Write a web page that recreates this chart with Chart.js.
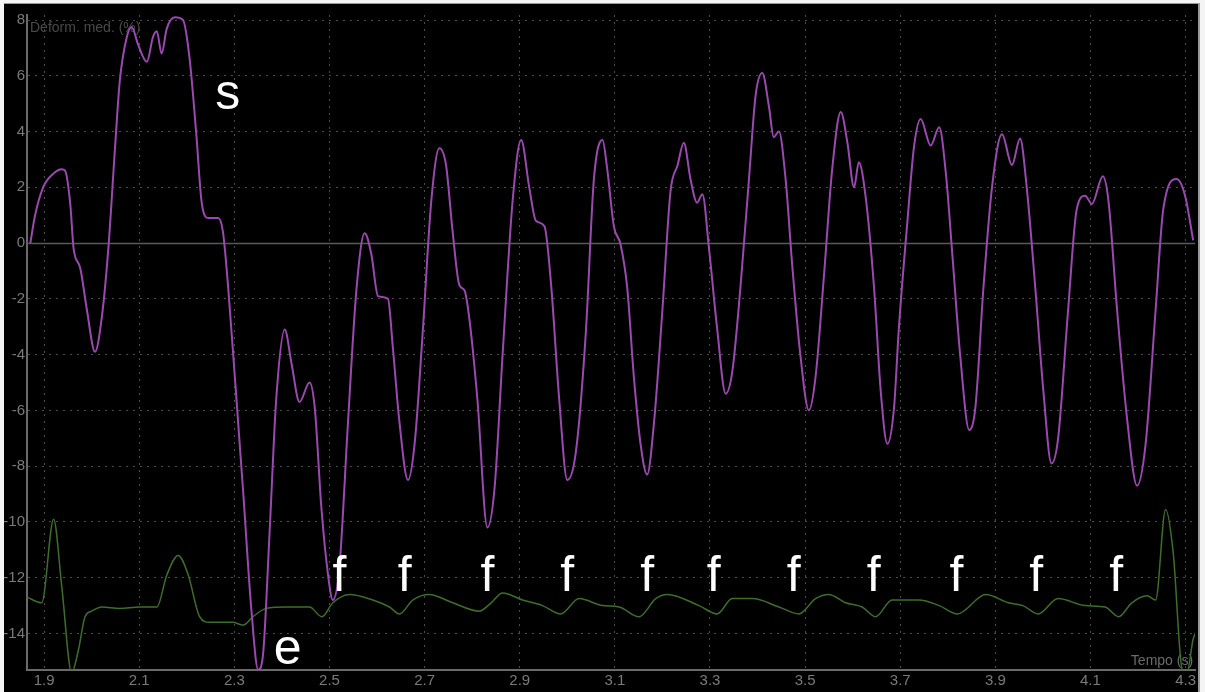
<!DOCTYPE html>
<html>
<head>
<meta charset="utf-8">
<script src="https://cdn.jsdelivr.net/npm/chart.js@4"></script>
<style>
  html, body { margin: 0; padding: 0; background: #f4f4f4; }
  #frame {
    position: absolute; left: 4px; top: 3px; width: 1194px; height: 689px;
    background: #000; border-top: 1px solid #9a9a9a; border-right: 2px solid #9a9a9a;
  }
  canvas { display: block; }
</style>
</head>
<body>
<div id="frame"><canvas id="strainChart" width="1194" height="689"></canvas></div>
<script>
// strain curve (purple)
const strainTime = [1.871,1.881,1.898,1.920,1.937,1.944,1.955,1.962,1.976,1.990,2.007,2.021,2.035,2.049,2.059,2.074,2.084,2.098,2.116,2.129,2.137,2.147,2.158,2.175,2.192,2.206,2.220,2.231,2.245,2.266,2.276,2.287,2.301,2.318,2.336,2.350,2.360,2.374,2.388,2.406,2.420,2.437,2.458,2.469,2.483,2.497,2.507,2.521,2.539,2.557,2.574,2.588,2.602,2.623,2.633,2.647,2.665,2.679,2.696,2.714,2.731,2.745,2.759,2.773,2.784,2.794,2.811,2.832,2.847,2.864,2.885,2.903,2.920,2.934,2.952,2.966,2.983,3.000,3.018,3.039,3.056,3.074,3.084,3.098,3.112,3.126,3.140,3.154,3.168,3.182,3.200,3.217,3.232,3.245,3.259,3.273,3.284,3.298,3.315,3.333,3.347,3.364,3.382,3.396,3.410,3.424,3.434,3.445,3.459,3.473,3.490,3.508,3.522,3.540,3.557,3.575,3.589,3.603,3.613,3.627,3.645,3.659,3.673,3.687,3.697,3.715,3.729,3.743,3.764,3.782,3.796,3.810,3.826,3.845,3.858,3.875,3.893,3.914,3.935,3.952,3.966,3.984,4.001,4.018,4.032,4.053,4.071,4.089,4.103,4.126,4.138,4.156,4.177,4.198,4.216,4.237,4.253,4.281,4.299,4.316];
const strainValue = [0,1.0,2.0,2.5,2.65,2.6,1.4,-0.2,-0.9,-2.4,-3.9,-2.7,-0.2,3.4,5.8,7.4,7.75,7.1,6.5,7.4,7.6,6.8,7.7,8.1,8.0,6.6,3.9,1.5,0.9,0.9,0.4,-1.6,-4.8,-8.8,-13.2,-15.3,-14.8,-10.4,-5.6,-3.1,-4.3,-5.7,-5.0,-5.9,-9.5,-11.9,-12.8,-11.6,-6.4,-1.6,0.35,-0.4,-1.9,-2.0,-3.7,-6.4,-8.5,-7.2,-3.2,1.5,3.4,2.8,0.4,-1.5,-1.7,-2.7,-5.6,-10.2,-8.8,-4.0,1.5,3.7,2.0,0.8,0.6,-1.5,-5.6,-8.5,-7.5,-3.2,2.3,3.7,2.65,0.6,-0.05,-1.6,-4.8,-7.2,-8.3,-6.5,-2.4,1.85,2.8,3.6,2.3,1.45,1.75,-0.2,-3.05,-5.4,-4.6,-1.6,2.3,5.3,6.1,4.9,3.8,4.0,2.3,-0.8,-4.0,-6.0,-4.8,-1.1,2.65,4.7,3.6,2.0,2.9,1.7,-1.6,-5.3,-7.2,-5.9,-3.1,0.75,3.45,4.45,3.5,4.15,2.5,-0.5,-4.0,-6.7,-5.9,-1.6,2.0,3.9,2.8,3.75,2.0,-1.6,-5.3,-7.9,-7.0,-2.4,1.2,1.7,1.4,2.4,1.5,-2.4,-6.3,-8.7,-7.2,-2.4,1.2,2.3,1.7,0.1];

// ECG trace (green)
const ecgTime = [1.864,1.895,1.920,1.937,1.958,1.972,1.986,2.000,2.021,2.059,2.101,2.137,2.158,2.182,2.203,2.227,2.248,2.297,2.318,2.339,2.367,2.409,2.458,2.484,2.507,2.542,2.591,2.626,2.647,2.675,2.710,2.759,2.815,2.840,2.864,2.906,2.948,2.986,3.025,3.074,3.109,3.151,3.186,3.210,3.277,3.315,3.347,3.389,3.445,3.487,3.522,3.550,3.585,3.620,3.648,3.683,3.739,3.782,3.820,3.880,3.927,3.958,3.990,4.032,4.089,4.131,4.159,4.187,4.219,4.237,4.258,4.274,4.293,4.303,4.316,4.331];
const ecgValue = [-12.7,-12.9,-9.9,-12.3,-15.4,-14.6,-13.4,-13.2,-13.05,-13.1,-13.05,-13.05,-11.9,-11.2,-11.9,-13.4,-13.6,-13.6,-13.7,-13.4,-13.1,-13.05,-13.05,-13.4,-12.9,-12.6,-12.8,-13.05,-13.3,-12.8,-12.6,-12.9,-13.2,-12.9,-12.55,-12.8,-13.0,-13.3,-12.75,-13.0,-13.05,-13.4,-12.75,-12.6,-13.0,-13.3,-12.75,-12.75,-13.05,-13.3,-12.75,-12.6,-12.9,-13.05,-13.4,-12.8,-12.8,-13.0,-13.3,-12.6,-12.9,-13.0,-13.3,-12.75,-13.0,-13.05,-13.4,-12.9,-12.65,-12.8,-9.55,-11.1,-15.3,-15.4,-14.2,-13.7];

// axes
const xTicks = [1.9,2.1,2.3,2.5,2.7,2.9,3.1,3.3,3.5,3.7,3.9,4.1,4.3];
const yTicks = [8,6,4,2,0,-2,-4,-6,-8,-10,-12,-14];

// letter markers
const markTexts = ['s','e','f','f','f','f','f','f','f','f','f','f','f'];
const markTime = [2.286,2.412,2.521,2.658,2.832,3.000,3.168,3.308,3.476,3.644,3.818,3.986,4.154];
const markValue = [5.3,-14.6,-12.0,-12.0,-12.0,-12.0,-12.0,-12.0,-12.0,-12.0,-12.0,-12.0,-12.0];

const toPoints = (xs, ys) => xs.map((x, i) => ({ x, y: ys[i] }));

const overlay = {
  id: 'overlay',
  beforeDatasetsDraw(chart) {
    const { ctx, chartArea, scales } = chart;
    const y0 = Math.round(scales.y.getPixelForValue(0)) + 0.5;
    ctx.save();
    ctx.strokeStyle = '#5a5a5a';
    ctx.lineWidth = 1.5;
    ctx.beginPath();
    ctx.moveTo(chartArea.left, y0);
    ctx.lineTo(chartArea.right, y0);
    ctx.stroke();
    ctx.fillStyle = '#4a4a4a';
    ctx.font = '14px "Liberation Sans", Arial, sans-serif';
    ctx.textBaseline = 'top';
    ctx.fillText('Deform. med. (%)', chartArea.left + 3, chartArea.top + 6);
    ctx.fillStyle = '#6a6a6a';
    ctx.textAlign = 'right';
    ctx.textBaseline = 'bottom';
    ctx.fillText('Tempo (s)', chartArea.right - 2, chartArea.bottom - 2);
    ctx.restore();
  },
  afterDatasetsDraw(chart) {
    const { ctx, scales } = chart;
    ctx.save();
    ctx.fillStyle = '#ffffff';
    ctx.font = '50px "Liberation Sans", Arial, sans-serif';
    ctx.textAlign = 'center';
    ctx.textBaseline = 'middle';
    markTexts.forEach((t, i) => {
      ctx.fillText(t, scales.x.getPixelForValue(markTime[i]), scales.y.getPixelForValue(markValue[i]));
    });
    ctx.restore();
  }
};

const ctx = document.getElementById('strainChart').getContext('2d');
new Chart(ctx, {
  type: 'line',
  data: {
    datasets: [{
      label: 'Deformazione',
      data: toPoints(strainTime, strainValue),
      borderColor: '#9a4aae',
      borderWidth: 2,
      pointRadius: 0,
      cubicInterpolationMode: 'monotone'
    }, {
      label: 'ECG',
      data: toPoints(ecgTime, ecgValue),
      borderColor: '#3f6e2c',
      borderWidth: 1.5,
      pointRadius: 0,
      cubicInterpolationMode: 'monotone'
    }]
  },
  options: {
    responsive: false,
    animation: false,
    layout: { padding: { top: 7, right: 0, left: 0, bottom: 0 } },
    plugins: { legend: { display: false }, tooltip: { enabled: false } },
    scales: {
      x: {
        type: 'linear',
        min: 1.864,
        max: 4.32,
        afterBuildTicks: (scale) => { scale.ticks = xTicks.map(v => ({ value: v })); },
        afterFit: (scale) => { scale.height = 23; },
        ticks: {
          color: '#7a7a7a',
          font: { size: 15, family: '"Liberation Sans", Arial, sans-serif' },
          padding: 2,
          maxRotation: 0,
          autoSkip: false,
          callback: (v) => v.toFixed(1)
        },
        grid: { color: '#4c4c4c', drawTicks: false, lineWidth: 1 },
        border: { color: '#6a6a6a', width: 2, dash: [2, 5] }
      },
      y: {
        min: -15.31,
        max: 8.18,
        afterBuildTicks: (scale) => { scale.ticks = yTicks.map(v => ({ value: v })); },
        afterFit: (scale) => { scale.width = 23; },
        ticks: {
          color: '#7a7a7a',
          font: { size: 15, family: '"Liberation Sans", Arial, sans-serif' },
          padding: 2,
          autoSkip: false
        },
        grid: { color: '#4c4c4c', drawTicks: false, lineWidth: 1 },
        border: { color: '#6a6a6a', width: 2, dash: [2, 5] }
      }
    }
  },
  plugins: [overlay]
});
</script>
</body>
</html>
